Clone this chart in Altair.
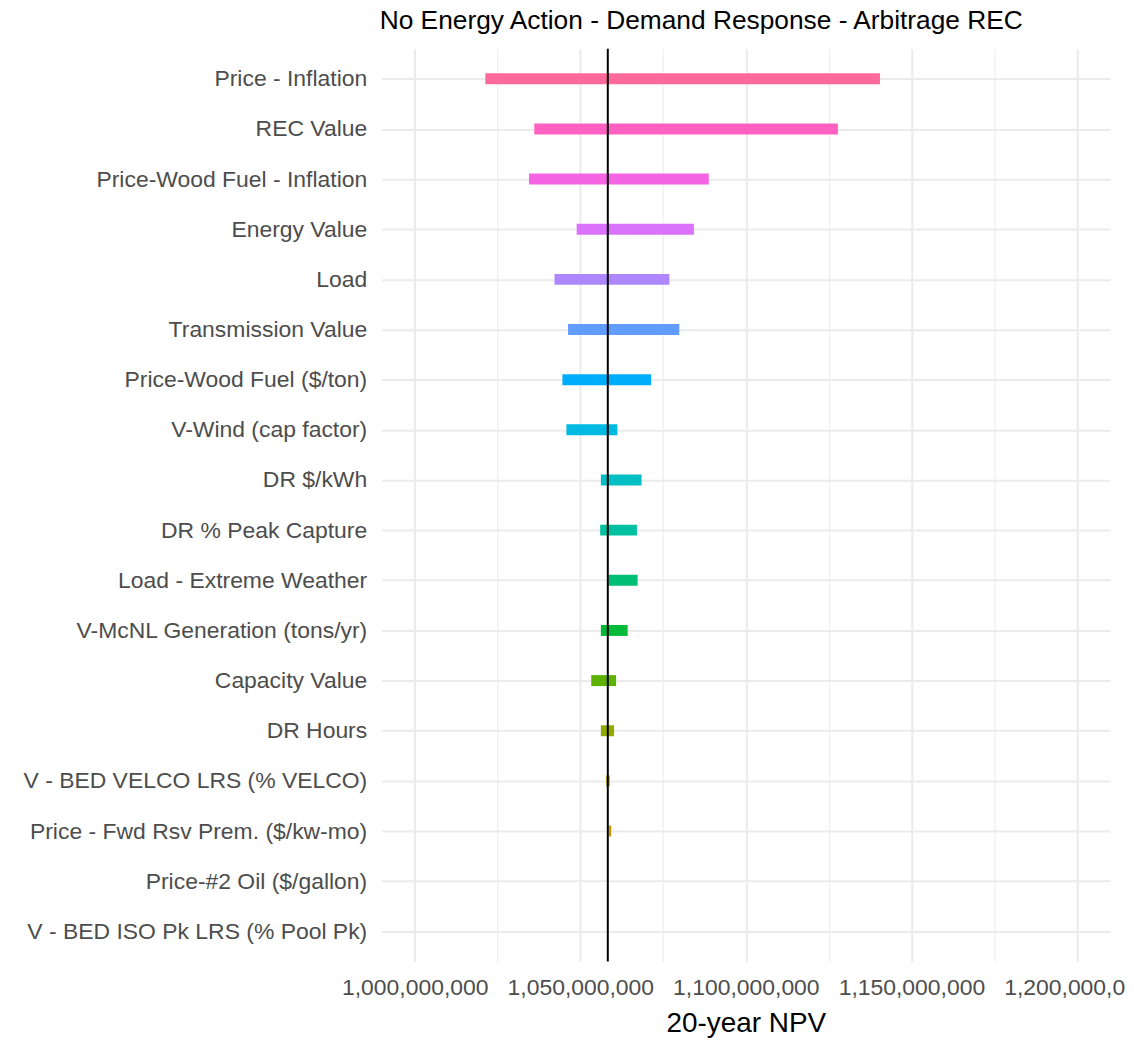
import altair as alt
import pandas as pd

categories = [
    "Price - Inflation",
    "REC Value",
    "Price-Wood Fuel - Inflation",
    "Energy Value",
    "Load",
    "Transmission Value",
    "Price-Wood Fuel ($/ton)",
    "V-Wind (cap factor)",
    "DR $/kWh",
    "DR % Peak Capture",
    "Load - Extreme Weather",
    "V-McNL Generation (tons/yr)",
    "Capacity Value",
    "DR Hours",
    "V - BED VELCO LRS (% VELCO)",
    "Price - Fwd Rsv Prem. ($/kw-mo)",
    "Price-#2 Oil ($/gallon)",
    "V - BED ISO Pk LRS (% Pool Pk)",
]

low_npv = [
    1021300000, 1036100000, 1034500000, 1048900000, 1042200000, 1046300000,
    1044600000, 1045800000, 1056200000, 1056000000, 1058500000, 1056200000,
    1053300000, 1056200000, 1057800000, 1058600000, 1058300000, 1058300000,
]
high_npv = [
    1140500000, 1127800000, 1088800000, 1084300000, 1076900000, 1079900000,
    1071400000, 1061200000, 1068500000, 1067100000, 1067300000, 1064300000,
    1060800000, 1060200000, 1058900000, 1059300000, 1058300000, 1058300000,
]
base_npv = [1058300000]

x_ticks = [1000000000, 1025000000, 1050000000, 1075000000, 1100000000,
           1125000000, 1150000000, 1175000000, 1200000000]

palette = [
    "#FF699C", "#FF61C3", "#F564E3", "#DB72FB", "#AE87FF", "#619CFF",
    "#00ADFA", "#00B9E3", "#00BFC4", "#00C19F", "#00BF74", "#00BA38",
    "#5EB300", "#93AA00", "#B79F00", "#D39200", "#E88526", "#F8766D",
]

df = pd.DataFrame({"category": categories, "low": low_npv, "high": high_npv})
base_df = pd.DataFrame({"base": base_npv})

FONT = "Liberation Sans"

x_scale = alt.Scale(domain=[990000000, 1210000000], nice=False, zero=False)
y_scale = alt.Scale(type="point", domain=categories, padding=0.6)

bars = alt.Chart(df).mark_bar(size=11).encode(
    x=alt.X(
        "low:Q",
        scale=x_scale,
        title="20-year NPV",
        axis=alt.Axis(
            values=x_ticks,
            format=",d",
            labelExpr="datum.value % 50000000 === 0 ? datum.label : ''",
            labelFont=FONT,
            labelFontSize=23,
            labelColor="#4D4D4D",
            labelPadding=15,
            labelOverlap=False,
            labelFlush=False,
            titleFont=FONT,
            titleFontSize=28,
            titleFontWeight="normal",
            titleColor="black",
            titlePadding=10,
            domain=False,
            ticks=False,
            grid=True,
            gridColor="#EBEBEB",
            gridWidth={"condition": {"test": "datum.value % 50000000 === 0", "value": 2}, "value": 1},
        ),
    ),
    x2="high:Q",
    y=alt.Y(
        "category:N",
        scale=y_scale,
        sort=categories,
        title=None,
        axis=alt.Axis(
            labelFont=FONT,
            labelFontSize=23,
            labelColor="#4D4D4D",
            labelPadding=15,
            labelLimit=400,
            domain=False,
            ticks=False,
            grid=True,
            gridColor="#EBEBEB",
            gridWidth=2,
        ),
    ),
    color=alt.Color("category:N", scale=alt.Scale(domain=categories, range=palette), legend=None),
)

base_line = alt.Chart(base_df).mark_rule(color="black", strokeWidth=2).encode(
    x=alt.X("base:Q", scale=x_scale)
)

chart = alt.layer(bars, base_line).properties(
    width=731,
    height=916,
    autosize=alt.AutoSizeParams(type="none"),
    padding={"left": 375, "top": 39, "right": 16, "bottom": 76},
    title=alt.TitleParams(
        text="No Energy Action - Demand Response - Arbitrage REC",
        anchor="start",
        frame="group",
        font=FONT,
        fontSize=26.4,
        fontWeight="normal",
        color="black",
        offset=13,
        dx=-2,
    ),
).configure_view(stroke=None)

chart.save("out.html", embed_options={"renderer": "svg", "actions": False})
